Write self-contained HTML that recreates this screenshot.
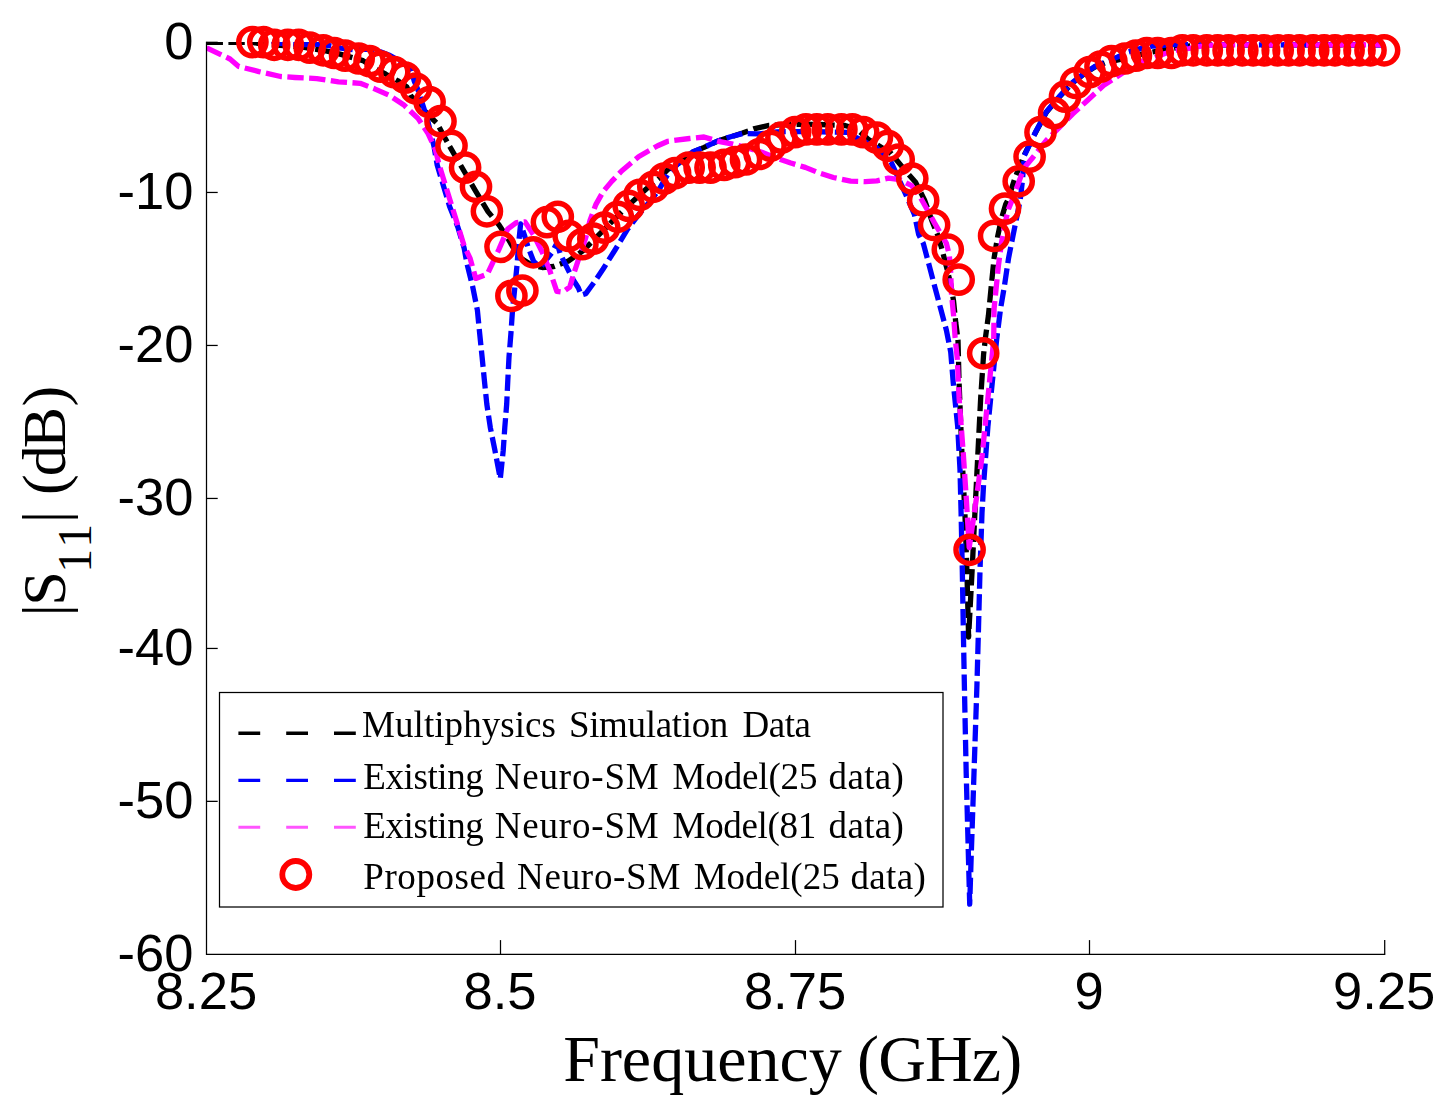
<!DOCTYPE html>
<html><head><meta charset="utf-8"><title>S11 comparison</title>
<style>html,body{margin:0;padding:0;background:#fff}body{width:1452px;height:1110px;overflow:hidden}svg{display:block}text{font-family:"Liberation Sans",sans-serif;fill:#000}.s,.s tspan{font-family:"Liberation Serif",serif}</style></head><body>
<svg width="1452" height="1110" viewBox="0 0 1452 1110">
<rect width="1452" height="1110" fill="#fff"/>
<defs><clipPath id="c"><rect x="206.5" y="42.0" width="1178.7" height="912.3"/></clipPath></defs>
<g clip-path="url(#c)" fill="none" stroke-linejoin="round" stroke-linecap="butt">
<path d="M206.6 42.3L252.5 42.3L263.0 44.4L290.0 46.0L303.0 47.2L316.3 49.4L327.0 51.2L341.0 54.4L363.0 60.6L376.3 69.3L385.8 74.2L397.8 80.8L406.9 87.0L411.0 96.1L421.0 107.0L432.5 119.0L437.2 123.6L449.0 145.3L464.0 171.0L475.5 190.9L488.0 211.6L498.9 224.8L507.6 237.9L513.4 248.0L520.6 258.1L530.7 264.6L542.3 267.5L553.9 266.5L568.4 261.0L582.8 250.9L597.3 236.4L611.7 221.9L629.1 204.6L646.5 188.7L659.2 178.2L667.9 169.5L678.0 163.8L693.1 151.9L704.1 147.4L717.3 141.3L730.5 136.9L742.6 133.0L754.8 128.6L769.1 125.3L798.0 124.2L820.0 124.5L845.0 125.5L857.0 129.0L868.1 139.2L891.2 153.6L905.7 171.0L915.8 182.6L924.5 199.9L931.7 220.2L937.5 234.6L941.9 249.1L946.4 266.5L950.7 283.9L953.6 301.2L955.8 322.9L958.0 340.0L959.1 383.2L962.0 455.3L964.9 513.0L966.9 570.6L968.6 637.0L972.1 570.6L974.9 513.0L977.8 455.3L980.7 397.7L983.6 354.4L985.5 337.4L988.4 315.7L991.2 286.8L994.1 257.9L997.7 236.2L1001.4 218.8L1005.7 204.3L1007.9 200.0L1015.0 178.0L1023.5 156.5L1035.3 133.0L1046.4 112.2L1059.6 96.8L1071.7 83.6L1081.6 75.8L1094.8 67.0L1104.8 62.9L1129.6 57.5L1139.5 54.6L1164.3 49.7L1187.4 46.2L1205.0 44.9L1384.7 44.8" stroke="#000" stroke-width="5.3" stroke-dasharray="16.36 5.45"/>
<path d="M206.6 38.0L262.0 38.5L280.8 43.4L305.6 44.6L318.0 44.4L329.5 45.7L341.0 48.2L353.5 49.8L362.0 49.2L374.6 49.6L390.0 55.5L405.0 64.0L411.5 70.9L414.3 81.2L418.0 90.0L423.8 108.0L428.0 122.0L434.0 146.4L437.2 165.0L443.4 185.7L449.6 206.4L457.9 227.2L464.1 247.9L466.9 263.4L472.7 286.8L477.4 310.3L479.7 333.7L482.1 357.1L484.4 380.5L486.8 404.0L490.3 427.4L495.0 450.8L500.3 478.9L503.2 450.8L504.8 427.4L506.7 404.0L507.8 380.5L509.0 357.1L510.9 333.7L512.5 310.3L514.9 286.8L517.2 263.4L518.5 245.0L520.6 224.0L524.4 235.0L528.2 247.6L533.7 261.4L540.5 267.5L547.0 259.0L552.0 252.5L557.0 243.0L560.5 254.5L567.4 268.4L573.0 279.5L578.3 287.8L581.3 295.0L585.8 293.6L590.5 287.2L595.1 281.0L603.1 269.0L615.0 250.0L627.7 229.0L639.2 214.0L652.2 198.8L660.6 186.9L667.9 173.9L682.3 159.4L693.1 151.7L704.1 147.3L717.3 141.2L730.5 136.8L742.6 133.5L759.2 133.8L777.0 131.8L790.0 131.6L812.5 131.6L848.0 132.4L856.5 137.7L876.8 147.9L891.2 162.3L904.3 191.2L914.4 214.4L918.7 234.6L923.3 243.4L929.1 265.1L934.8 286.8L940.6 308.5L946.4 330.2L950.7 351.9L953.3 383.2L957.7 426.5L960.0 469.7L961.1 513.0L962.3 570.0L963.3 628.0L964.4 686.5L966.2 773.0L968.5 859.4L969.7 904.1L971.1 859.4L974.0 773.0L976.9 686.5L978.5 628.0L980.0 570.0L982.0 513.0L983.6 484.1L987.9 426.5L992.2 383.2L996.6 340.0L1000.6 308.5L1004.3 286.8L1008.6 257.9L1012.9 236.2L1017.3 214.5L1020.2 200.0L1022.5 180.0L1024.3 155.8L1035.3 132.6L1046.4 111.7L1059.6 96.3L1071.7 83.1L1081.6 75.3L1094.8 66.5L1117.2 57.1L1128.0 52.1L1139.5 48.8L1152.7 46.0L1175.0 44.5L1199.0 44.8L1384.7 44.8" stroke="#0000ff" stroke-width="5.3" stroke-dasharray="16.36 5.45"/>
<path d="M206.6 47.8L230.0 59.0L238.7 66.4L258.9 71.6L280.6 76.5L295.0 77.5L316.8 78.6L338.5 81.8L360.2 83.3L374.6 88.8L389.1 95.3L403.6 104.7L418.0 118.4L428.1 133.6L435.4 149.5L439.2 165.0L447.5 192.0L455.8 218.9L464.1 245.8L470.0 258.1L475.8 278.4L487.4 274.0L498.9 249.4L507.6 229.2L516.3 222.7L525.0 221.9L533.6 235.0L542.3 252.3L549.5 269.7L556.8 291.4L562.6 292.1L569.8 287.0L574.1 272.6L579.9 255.2L585.7 237.9L590.0 220.5L595.8 204.6L603.1 191.6L611.7 181.4L621.6 171.0L638.9 156.5L657.7 145.7L667.9 141.3L689.5 138.5L704.0 137.0L718.5 141.3L732.9 144.2L747.4 147.9L761.9 152.2L776.3 158.0L790.8 163.0L805.3 167.4L819.7 173.2L833.4 177.5L850.7 181.1L865.2 181.6L876.8 180.8L888.4 178.2L899.9 179.7L911.5 185.5L920.2 197.0L927.4 210.0L934.6 223.1L946.4 243.4L949.3 255.0L950.7 272.3L951.5 294.0L953.6 315.7L955.1 337.4L957.3 359.1L959.1 397.7L963.4 455.3L966.3 498.5L969.2 547.5L976.4 498.5L982.2 455.3L986.5 412.1L990.8 368.8L993.7 340.0L994.1 308.5L996.3 286.8L998.5 265.1L1001.4 243.4L1004.3 226.0L1008.6 208.7L1012.2 200.0L1024.0 168.0L1032.0 158.5L1046.4 140.4L1059.6 127.1L1072.8 113.9L1087.1 100.7L1103.7 85.3L1115.8 77.5L1130.0 68.0L1142.0 61.2L1153.6 57.9L1164.3 53.8L1175.9 50.5L1189.0 48.5L1205.0 45.5L1220.0 44.8L1384.7 44.8" stroke="#ff00ff" stroke-width="5.3" stroke-dasharray="16.36 5.45"/>
</g>
<g fill="none" stroke="#ff0000" stroke-width="5.5">
<circle cx="252.4" cy="42.1" r="13.6"/>
<circle cx="263.3" cy="42.1" r="13.6"/>
<circle cx="274.2" cy="44.8" r="13.6"/>
<circle cx="287.8" cy="44.8" r="13.6"/>
<circle cx="298.7" cy="44.8" r="13.6"/>
<circle cx="309.7" cy="47.6" r="13.6"/>
<circle cx="323.3" cy="50.3" r="13.6"/>
<circle cx="334.2" cy="53.0" r="13.6"/>
<circle cx="345.1" cy="55.7" r="13.6"/>
<circle cx="358.7" cy="58.5" r="13.6"/>
<circle cx="369.6" cy="61.2" r="13.6"/>
<circle cx="380.6" cy="66.7" r="13.6"/>
<circle cx="394.2" cy="72.1" r="13.6"/>
<circle cx="405.1" cy="77.6" r="13.6"/>
<circle cx="416.0" cy="88.5" r="13.6"/>
<circle cx="429.6" cy="102.1" r="13.6"/>
<circle cx="440.5" cy="121.2" r="13.6"/>
<circle cx="451.5" cy="145.8" r="13.6"/>
<circle cx="465.1" cy="167.6" r="13.6"/>
<circle cx="476.0" cy="186.8" r="13.6"/>
<circle cx="486.9" cy="211.3" r="13.6"/>
<circle cx="500.5" cy="246.8" r="13.6"/>
<circle cx="511.4" cy="295.9" r="13.6"/>
<circle cx="522.4" cy="290.5" r="13.6"/>
<circle cx="533.3" cy="252.3" r="13.6"/>
<circle cx="546.9" cy="222.2" r="13.6"/>
<circle cx="557.8" cy="216.8" r="13.6"/>
<circle cx="568.7" cy="235.9" r="13.6"/>
<circle cx="582.4" cy="244.1" r="13.6"/>
<circle cx="593.3" cy="238.6" r="13.6"/>
<circle cx="604.2" cy="227.7" r="13.6"/>
<circle cx="617.8" cy="216.8" r="13.6"/>
<circle cx="628.7" cy="205.9" r="13.6"/>
<circle cx="639.6" cy="194.9" r="13.6"/>
<circle cx="653.3" cy="186.8" r="13.6"/>
<circle cx="664.2" cy="178.6" r="13.6"/>
<circle cx="675.1" cy="173.1" r="13.6"/>
<circle cx="688.7" cy="167.6" r="13.6"/>
<circle cx="699.6" cy="167.6" r="13.6"/>
<circle cx="710.5" cy="167.6" r="13.6"/>
<circle cx="724.2" cy="164.9" r="13.6"/>
<circle cx="735.1" cy="162.2" r="13.6"/>
<circle cx="746.0" cy="159.5" r="13.6"/>
<circle cx="759.6" cy="154.0" r="13.6"/>
<circle cx="770.5" cy="145.8" r="13.6"/>
<circle cx="781.4" cy="137.6" r="13.6"/>
<circle cx="795.1" cy="132.2" r="13.6"/>
<circle cx="806.0" cy="129.4" r="13.6"/>
<circle cx="816.9" cy="129.4" r="13.6"/>
<circle cx="827.8" cy="129.4" r="13.6"/>
<circle cx="841.4" cy="129.4" r="13.6"/>
<circle cx="852.3" cy="129.4" r="13.6"/>
<circle cx="863.2" cy="132.2" r="13.6"/>
<circle cx="876.9" cy="137.6" r="13.6"/>
<circle cx="887.8" cy="145.8" r="13.6"/>
<circle cx="898.7" cy="159.5" r="13.6"/>
<circle cx="912.3" cy="178.6" r="13.6"/>
<circle cx="923.2" cy="200.4" r="13.6"/>
<circle cx="934.1" cy="225.0" r="13.6"/>
<circle cx="947.8" cy="249.5" r="13.6"/>
<circle cx="958.7" cy="279.6" r="13.6"/>
<circle cx="969.6" cy="549.8" r="13.6"/>
<circle cx="983.2" cy="353.3" r="13.6"/>
<circle cx="994.1" cy="235.9" r="13.6"/>
<circle cx="1005.0" cy="208.6" r="13.6"/>
<circle cx="1018.7" cy="181.3" r="13.6"/>
<circle cx="1029.6" cy="156.7" r="13.6"/>
<circle cx="1040.5" cy="132.2" r="13.6"/>
<circle cx="1054.1" cy="113.1" r="13.6"/>
<circle cx="1065.0" cy="96.7" r="13.6"/>
<circle cx="1075.9" cy="83.0" r="13.6"/>
<circle cx="1089.6" cy="72.1" r="13.6"/>
<circle cx="1100.5" cy="66.7" r="13.6"/>
<circle cx="1111.4" cy="61.2" r="13.6"/>
<circle cx="1125.0" cy="58.5" r="13.6"/>
<circle cx="1135.9" cy="55.7" r="13.6"/>
<circle cx="1146.8" cy="53.0" r="13.6"/>
<circle cx="1157.7" cy="53.0" r="13.6"/>
<circle cx="1171.4" cy="53.0" r="13.6"/>
<circle cx="1182.3" cy="50.3" r="13.6"/>
<circle cx="1193.2" cy="50.3" r="13.6"/>
<circle cx="1206.8" cy="50.3" r="13.6"/>
<circle cx="1217.7" cy="50.3" r="13.6"/>
<circle cx="1228.6" cy="50.3" r="13.6"/>
<circle cx="1242.3" cy="50.3" r="13.6"/>
<circle cx="1253.2" cy="50.3" r="13.6"/>
<circle cx="1264.1" cy="50.3" r="13.6"/>
<circle cx="1277.7" cy="50.3" r="13.6"/>
<circle cx="1288.6" cy="50.3" r="13.6"/>
<circle cx="1299.6" cy="50.3" r="13.6"/>
<circle cx="1313.2" cy="50.3" r="13.6"/>
<circle cx="1324.1" cy="50.3" r="13.6"/>
<circle cx="1335.0" cy="50.3" r="13.6"/>
<circle cx="1348.6" cy="50.3" r="13.6"/>
<circle cx="1359.5" cy="50.3" r="13.6"/>
<circle cx="1370.5" cy="50.3" r="13.6"/>
<circle cx="1384.1" cy="50.3" r="13.6"/>
</g>
<g stroke="#000" stroke-width="1.25" fill="none">
<path d="M206.5 41.699999999999996V954.3H1385.3"/>
<path d="M206.5 42.3h11.2"/>
<path d="M206.5 192.46h11.2"/>
<path d="M206.5 345.45h11.2"/>
<path d="M206.5 498.45h11.2"/>
<path d="M206.5 648.45h11.2"/>
<path d="M206.5 801.35h11.2"/>
<path d="M500.5 954.3v-14.2"/>
<path d="M795.5 954.3v-14.2"/>
<path d="M1089.5 954.3v-14.2"/>
<path d="M1384.7 954.3v-14.2"/>
</g>
<text x="193.5" y="59.0" font-size="52.5" text-anchor="end">0</text>
<text x="193.5" y="209.2" font-size="52.5" text-anchor="end">-10</text>
<text x="193.5" y="362.1" font-size="52.5" text-anchor="end">-20</text>
<text x="193.5" y="515.1" font-size="52.5" text-anchor="end">-30</text>
<text x="193.5" y="665.2" font-size="52.5" text-anchor="end">-40</text>
<text x="193.5" y="818.1" font-size="52.5" text-anchor="end">-50</text>
<text x="193.5" y="971.0" font-size="52.5" text-anchor="end">-60</text>
<text x="206.0" y="1009.1" font-size="52.5" text-anchor="middle">8.25</text>
<text x="500.0" y="1009.1" font-size="52.5" text-anchor="middle">8.5</text>
<text x="795.0" y="1009.1" font-size="52.5" text-anchor="middle">8.75</text>
<text x="1089.0" y="1009.1" font-size="52.5" text-anchor="middle">9</text>
<text x="1384.2" y="1009.1" font-size="52.5" text-anchor="middle">9.25</text>
<text class="s" y="1080.6" font-size="66"><tspan x="563.2">Frequency</tspan> <tspan x="857.1" textLength="165.1" lengthAdjust="spacing">(GHz)</tspan></text>
<g transform="translate(64.6 0) rotate(-90)">
<text class="s" x="-616.5" y="0" font-size="62">|</text>
<text class="s" x="-605.7" y="0" font-size="62">S</text>
<text class="s" x="-572.7" y="26.5" font-size="47.5">1</text>
<text class="s" x="-547.8" y="26.5" font-size="47.5">1</text>
<text class="s" x="-523.2" y="0" font-size="62">|</text>
<text class="s" x="-495.1" y="0" font-size="62">(</text>
<text class="s" x="-476.2" y="0" font-size="62">d</text>
<text class="s" x="-448.2" y="0" font-size="62">B</text>
<text class="s" x="-406.5" y="0" font-size="62">)</text>
</g>
<rect x="219.5" y="692.5" width="723.5" height="214.5" fill="#fff" stroke="#000" stroke-width="1.25"/>
<path d="M238.4 733.2H355.8" stroke="#000" stroke-width="3.6" stroke-dasharray="21.8 26.0" fill="none"/>
<path d="M238.4 780.4H355.8" stroke="#0000ff" stroke-width="3.2" stroke-dasharray="21.8 26.0" fill="none"/>
<path d="M238.4 827.3H355.8" stroke="#ff55ff" stroke-width="3.0" stroke-dasharray="21.8 26.0" fill="none"/>
<circle cx="295.8" cy="874.5" r="13.5" fill="none" stroke="#ff0000" stroke-width="5.8"/>
<g style="filter:grayscale(1)">
<text class="s" y="736.9" font-size="37"><tspan x="362.1" textLength="193.8" lengthAdjust="spacing">Multiphysics</tspan><tspan x="568.9" textLength="159.4" lengthAdjust="spacing">Simulation</tspan><tspan x="742.4" textLength="68.6" lengthAdjust="spacing">Data</tspan></text>
<text class="s" y="788.5" font-size="37"><tspan x="363.3" textLength="120.5" lengthAdjust="spacing">Existing</tspan><tspan x="494.8" textLength="163.9" lengthAdjust="spacing">Neuro-SM</tspan><tspan x="672.6" textLength="144.8" lengthAdjust="spacing">Model(25</tspan><tspan x="828.6" textLength="75.3" lengthAdjust="spacing">data)</tspan></text>
<text class="s" y="837.6" font-size="37"><tspan x="363.3" textLength="120.5" lengthAdjust="spacing">Existing</tspan><tspan x="494.8" textLength="163.9" lengthAdjust="spacing">Neuro-SM</tspan><tspan x="672.6" textLength="143.6" lengthAdjust="spacing">Model(81</tspan><tspan x="828.6" textLength="75.3" lengthAdjust="spacing">data)</tspan></text>
<text class="s" y="888.8" font-size="37"><tspan x="363.3" textLength="141.7" lengthAdjust="spacing">Proposed</tspan><tspan x="517.1" textLength="163.2" lengthAdjust="spacing">Neuro-SM</tspan><tspan x="693.7" textLength="146.0" lengthAdjust="spacing">Model(25</tspan><tspan x="850.5" textLength="75.3" lengthAdjust="spacing">data)</tspan></text>
</g>
</svg></body></html>
